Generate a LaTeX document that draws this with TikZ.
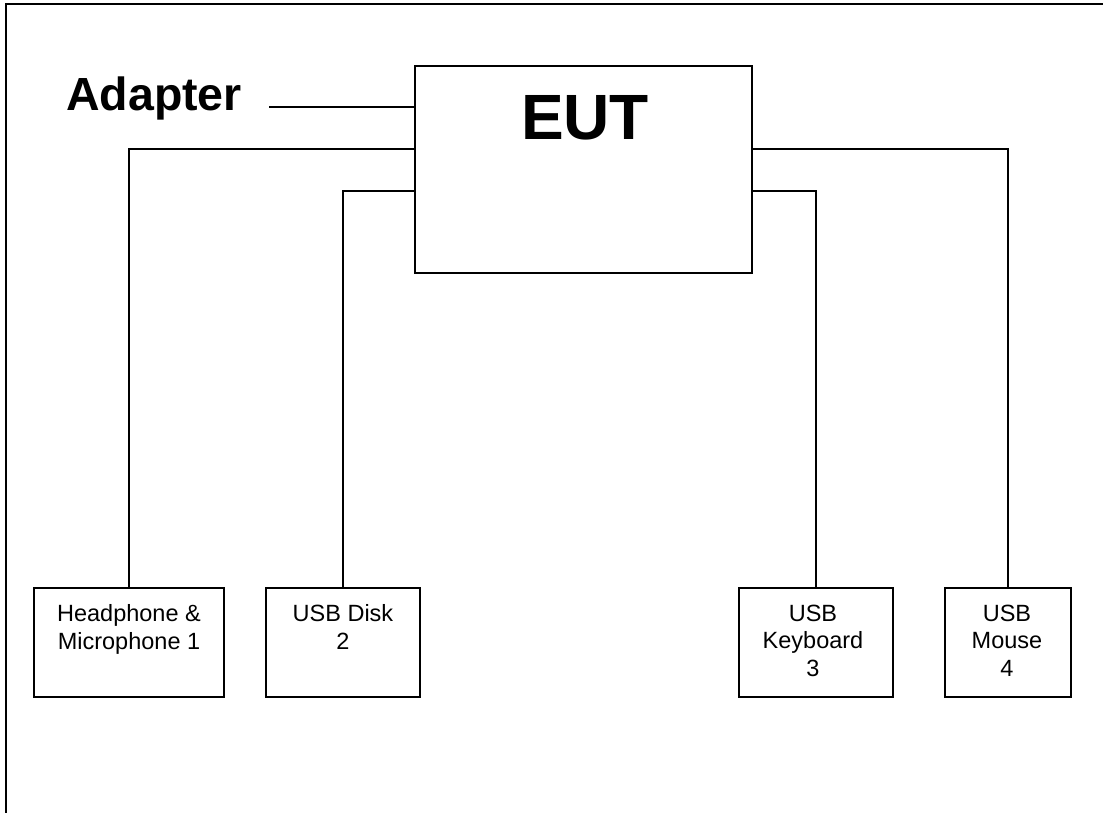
\documentclass[tikz,border=0pt]{standalone}
\usepackage{fontspec}
\setmainfont{Liberation Sans}
\begin{document}
\begin{tikzpicture}[x=1pt,y=1pt,
  wire/.style={line width=1.8pt, line cap=rect},
  eutbox/.style={draw, line width=1.8pt, minimum width=337pt, minimum height=207pt, inner sep=0pt},
  devbox/.style={draw, line width=1.8pt, minimum height=109pt, inner sep=0pt},
  devtext/.style={align=center, inner sep=0pt, font=\fontsize{23.5}{27.5}\selectfont},
  bigtext/.style={inner sep=0pt, font=\bfseries\fontsize{46.5}{50}\selectfont},
  huge text/.style={inner sep=0pt, font=\bfseries\fontsize{64}{70}\selectfont}]
\useasboundingbox (0,0) rectangle (1103,-813);

% page frame (top and left edges)
\draw[line width=2pt] (1103,-4) -- (6,-4) -- (6,-813);

% equipment under test
\node[eutbox] (eut) at (583.5,-169.5) {};
\node[huge text, anchor=base] (euttxt) at (585,-140) {EUT};

% adapter label and cable
\node[bigtext, anchor=base west] (adapter) at (66,-111) {Adapter};
\coordinate (adpend) at (270,-107);
\coordinate (yA) at (0,-107);
\coordinate (yB) at (0,-149);
\coordinate (yC) at (0,-191);

% peripheral boxes
\node[devbox, minimum width=190pt] (hp)    at (129,-642.5) {};
\node[devbox, minimum width=154pt] (disk)  at (343,-642.5) {};
\node[devbox, minimum width=154pt] (kb)    at (816,-642.5) {};
\node[devbox, minimum width=126pt] (mouse) at (1008,-642.5) {};

\node[devtext, anchor=north] (hptxt)    at (129,-604.5) {Headphone \&\\Microphone 1};
\node[devtext, anchor=north] (disktxt)  at (343,-604.5) {USB Disk\\2};
\node[devtext, anchor=north] (kbtxt)    at (813,-604.5) {USB\\Keyboard\\3};
\node[devtext, anchor=north] (mousetxt) at (1007,-604.5) {USB\\Mouse\\4};

% cables
\draw[wire] (adpend) -- (eut.west |- yA);
\draw[wire] (eut.west |- yB) -| (hp.north);
\draw[wire] (eut.west |- yC) -| (disk.north);
\draw[wire] (eut.east |- yC) -| (kb.north);
\draw[wire] (eut.east |- yB) -| (mouse.north);
\end{tikzpicture}
\end{document}
